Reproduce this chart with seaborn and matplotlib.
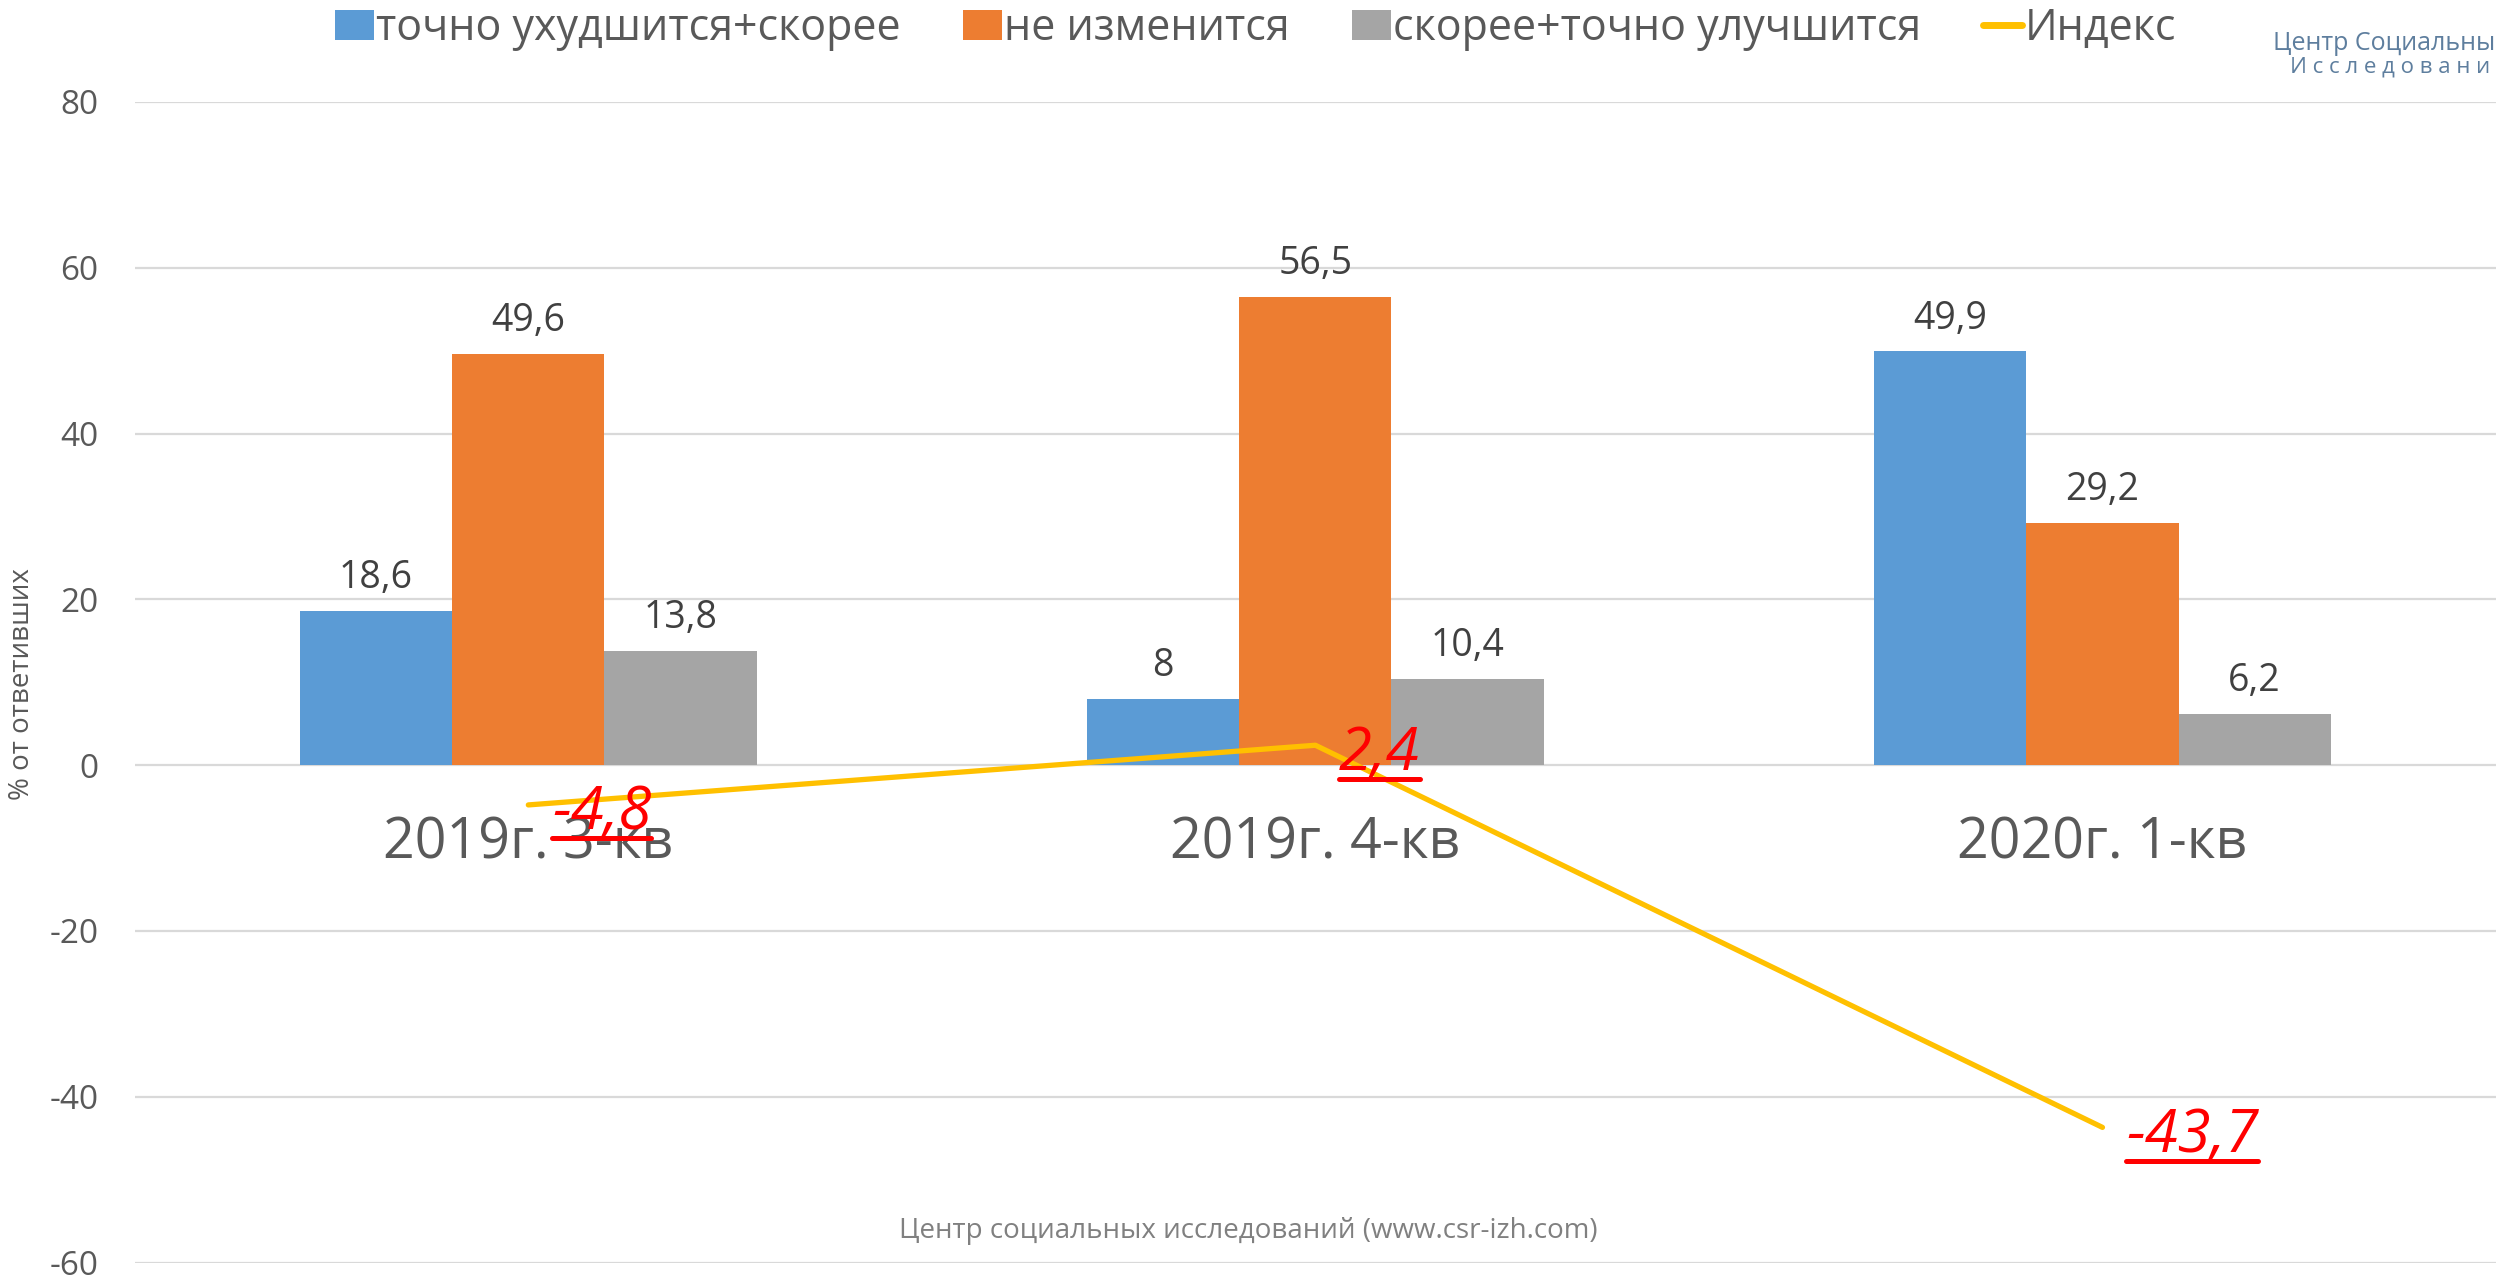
import numpy as np
import pandas as pd
import matplotlib
matplotlib.use("Agg")
import matplotlib.pyplot as plt
import seaborn as sns
from matplotlib.patches import Patch
from matplotlib.lines import Line2D

# ---------------- data ----------------
periods = ["2019г. 3-кв", "2019г. 4-кв", "2020г. 1-кв"]
series_names = ["точно ухудшится+скорее", "не изменится", "скорее+точно улучшится"]
worse = [18.6, 8.0, 49.9]
same = [49.6, 56.5, 29.2]
better = [13.8, 10.4, 6.2]
index_name = "Индекс"
index_vals = [-4.8, 2.4, -43.7]
yticks = [-60, -40, -20, 0, 20, 40, 60, 80]

bar_colors = ["#5B9BD5", "#ED7D31", "#A5A5A5"]
line_color = "#FFC000"

df = pd.DataFrame({
    "period": periods * 3,
    "answer": np.repeat(series_names, len(periods)),
    "value": worse + same + better,
})

sns.set_theme(style="white")
plt.rcParams["font.family"] = ["Open Sans", "DejaVu Sans"]
plt.rcParams["axes.unicode_minus"] = False

fig = plt.figure(figsize=(24.96, 12.77), dpi=100)
ax = fig.add_axes([0.054, 0.01135, 0.946, 0.9088])

sns.barplot(data=df, x="period", y="value", hue="answer", order=periods,
            hue_order=series_names, palette=bar_colors, width=0.58, gap=0,
            saturation=1, errorbar=None, legend=False, linewidth=0, ax=ax)


def fmt(v):
    return (f"{v:g}").replace(".", ",")


for c in ax.containers:
    ax.bar_label(c, labels=[fmt(v) for v in c.datavalues], padding=10,
                 fontsize=27, color="#404040")

sns.lineplot(x=np.arange(len(periods)), y=index_vals, color=line_color,
             linewidth=3.8, ax=ax, zorder=5)

ax.set_xlim(-0.5, len(periods) - 0.5)
ax.set_ylim(yticks[0], yticks[-1])
ax.set_yticks(yticks)
ax.set_xlabel("")
ax.set_ylabel("")
for s in ["left", "right", "top"]:
    ax.spines[s].set_visible(False)
ax.spines["bottom"].set_position(("data", 0))
ax.spines["bottom"].set_visible(False)
ax.grid(axis="y", color="#D9D9D9", linewidth=1.6)
ax.grid(axis="x", visible=False)
ax.set_axisbelow(True)
ax.tick_params(axis="x", length=0, pad=36, labelsize=40, labelcolor="#595959")
ax.tick_params(axis="y", length=0, pad=26, labelsize=24, labelcolor="#595959")

# index labels
idx_texts = []
for i, v in enumerate(index_vals):
    t = ax.annotate(fmt(v), xy=(i, v), xytext=(17, -1), textcoords="offset points",
                    ha="left", va="center_baseline", fontsize=43, color="#FF0000",
                    fontstyle="italic", zorder=6)
    idx_texts.append(t)

# legend
handles = [Patch(facecolor=c, edgecolor="none") for c in bar_colors]
handles.append(Line2D([0], [0], color=line_color, linewidth=5))
fig.legend(handles, series_names + [index_name], loc="center",
           bbox_to_anchor=(0.503, 1 - 29 / 1277), ncol=4, frameon=False,
           fontsize=31, handlelength=0.9, handleheight=0.7, handletextpad=0.05,
           columnspacing=1.45, labelcolor="#595959")

# y label
fig.text(0.009, 1 - 684 / 1277, "% от ответивших", rotation=90, ha="center",
         va="center", fontsize=20, color="#595959")

# footer
fig.text(0.5, 1 - 1231 / 1277, "Центр социальных исследований (www.csr-izh.com)",
         ha="center", va="center", fontsize=20, color="#808080")

# logo text (as visible in the reference, truncated at the right edge)
fig.text(0.9995, 1 - 43 / 1277, "Центр Социальны", ha="right", va="center",
         fontsize=18, color="#5E7E9E")
fig.text(0.9975, 1 - 67 / 1277, "И с с л е д о в а н и", ha="right", va="center",
         fontsize=16, color="#5E7E9E")

# underline index labels
fig.canvas.draw()
renderer = fig.canvas.get_renderer()
inv = fig.transFigure.inverted()
for t in idx_texts:
    bb = t.get_window_extent(renderer)
    y = bb.y0 + 5
    p0 = inv.transform((bb.x0, y))
    p1 = inv.transform((bb.x1, y))
    fig.add_artist(Line2D([p0[0], p1[0]], [p0[1], p1[1]], color="#FF0000",
                          linewidth=3.6, transform=fig.transFigure, zorder=7))

fig.savefig("out.png", dpi=100)
